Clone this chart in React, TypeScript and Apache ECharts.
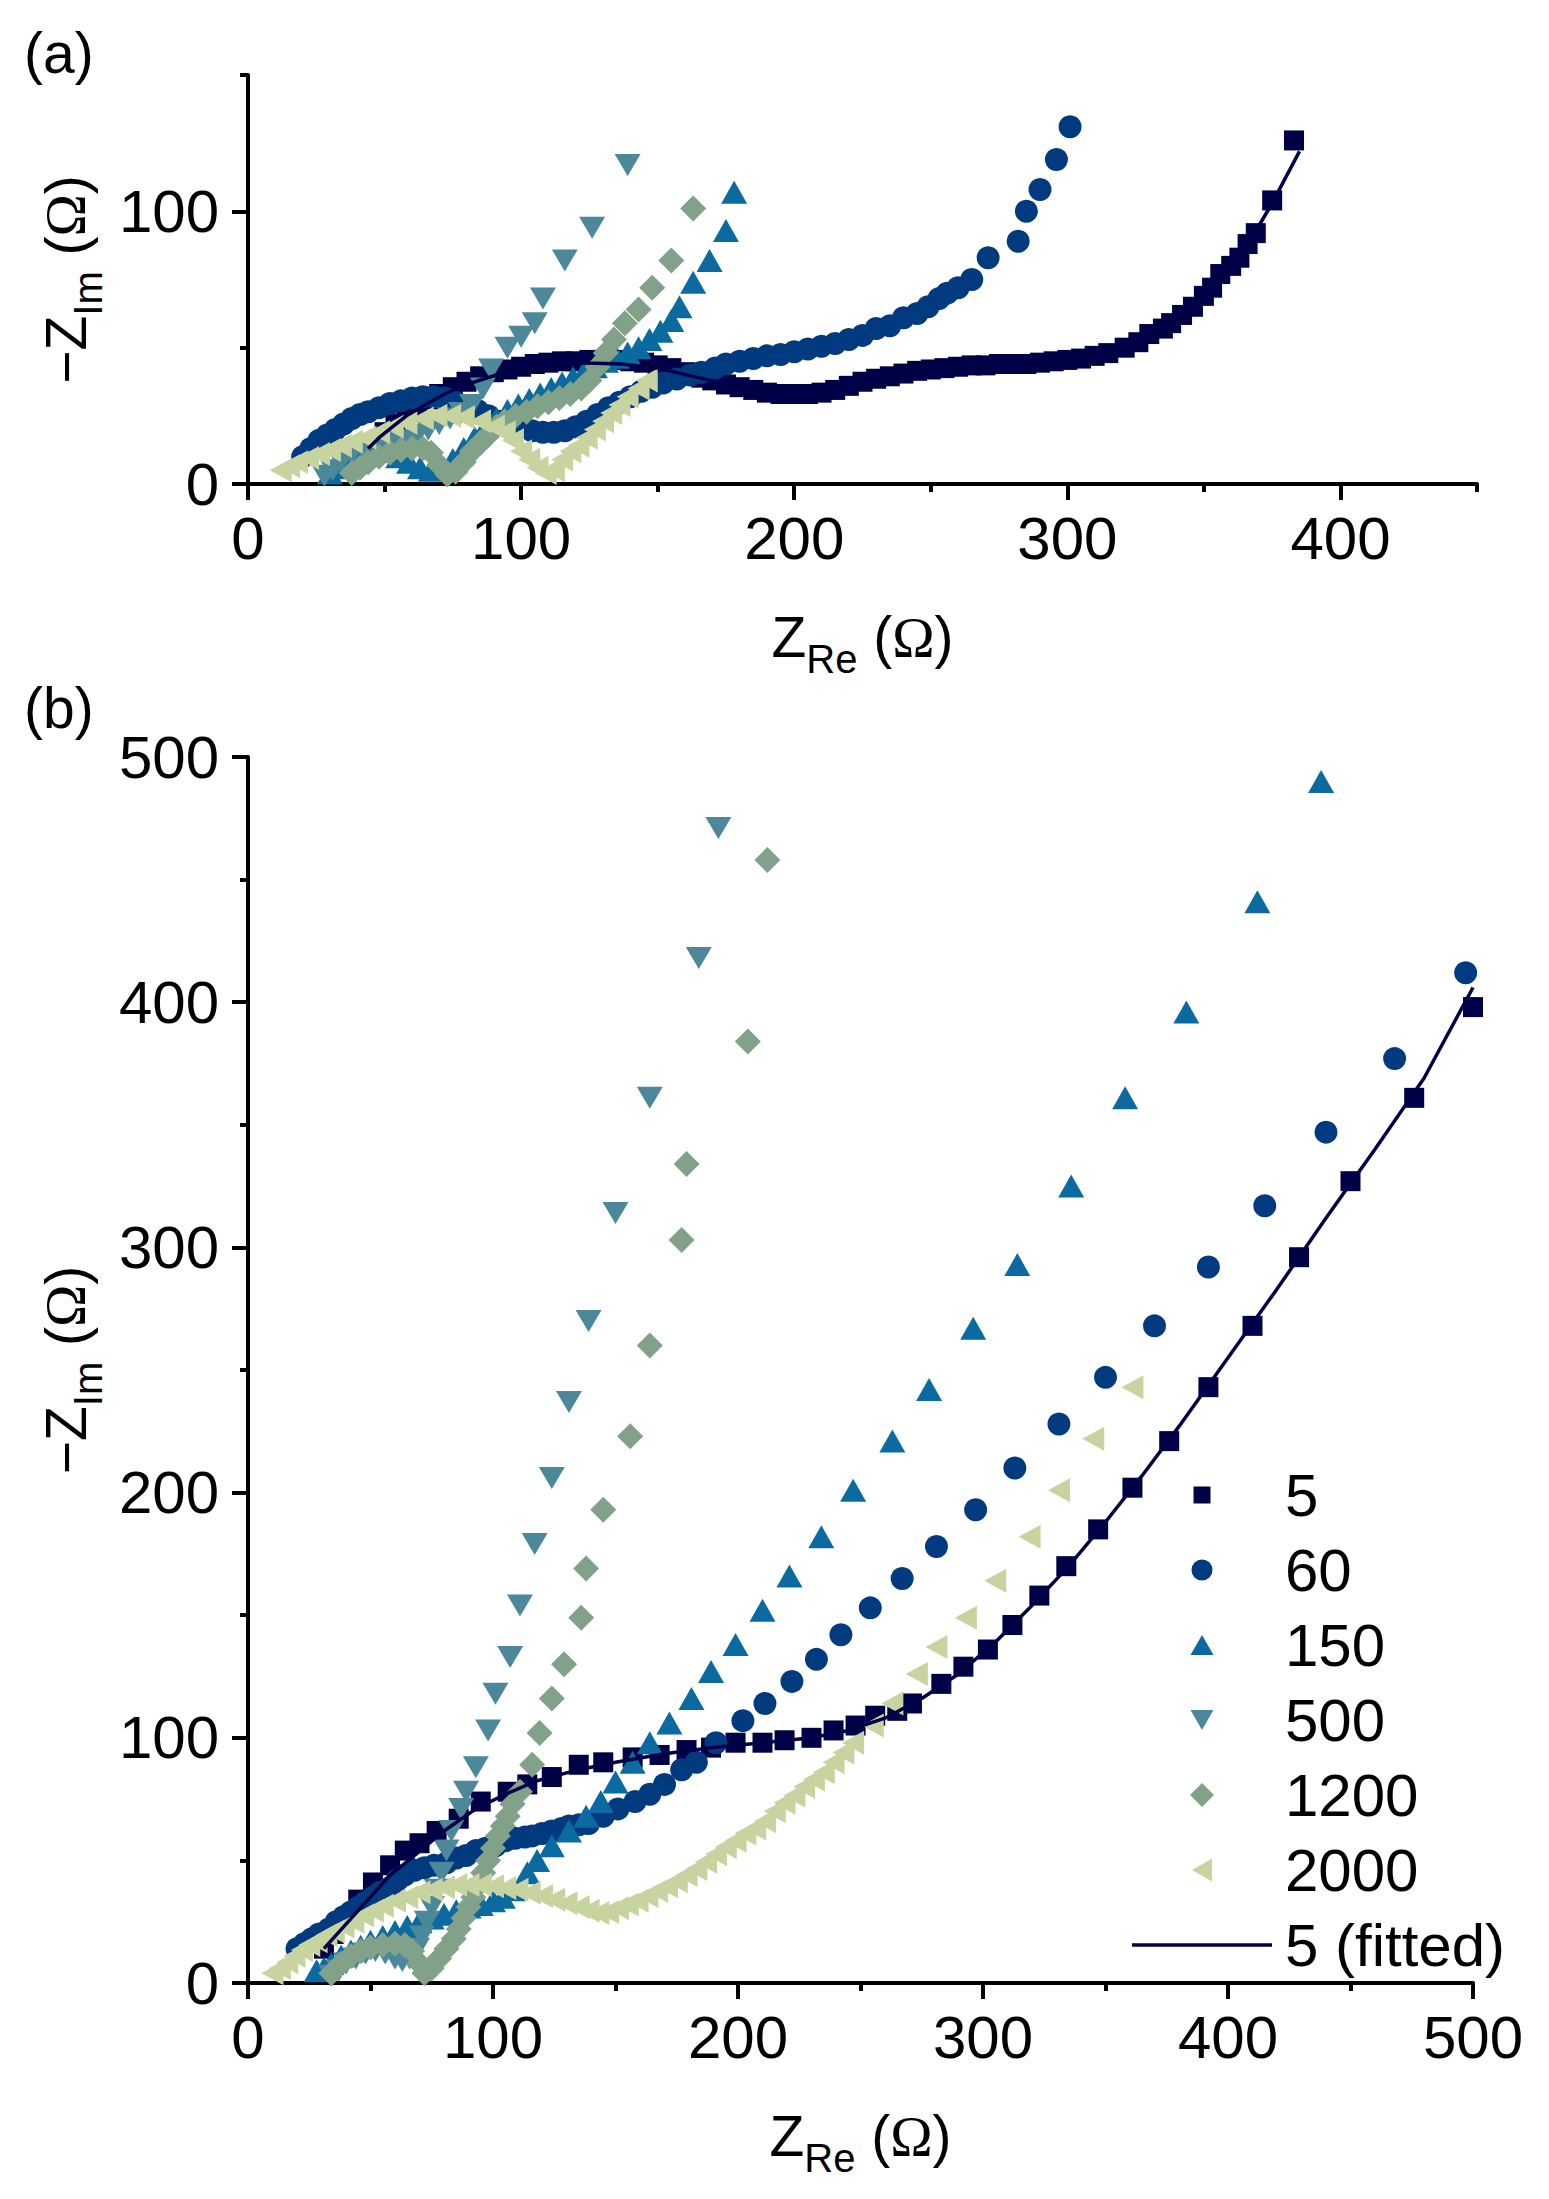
import { useEffect, useRef } from 'react';
import * as echarts from 'echarts';

const FONT = 'Liberation Sans, Arial, sans-serif';

// series names, colours and markers (same order as the legend)
const names = ['5', '60', '150', '500', '1200', '2000'];
const fitName = '5 (fitted)';
const colors = ['#000047', '#023a80', '#0b6a9f', '#4c8899', '#81a288', '#c8d4a0'];
const symbols = ['rect', 'circle', 'triangle', 'triangle', 'diamond', 'triangle'];
const symbolSizes: (number | number[])[] = [20, 23, [26, 23], [26, 22], 26, [24, 22]];
const symbolRotates = [0, 0, 0, 180, 0, 90];
// legend markers (drawn inside a 24 x 24 box so they keep their own size)
const legendIcons = [
  'path://M0,0M24,24M3.5,3.5H20.5V20.5H3.5Z',
  'path://M0,0M24,24M1.5,12A10.5,10.5,0,1,1,22.5,12A10.5,10.5,0,1,1,1.5,12Z',
  'path://M0,0M24,24M12,2L23.5,22H0.5Z',
  'path://M0,0M24,24M0.5,2H23.5L12,22Z',
  'path://M12,0L24,12L12,24L0,12Z',
  'path://M0,0M24,24M2,12L22,0.5V23.5Z',
];
const fitIcon = 'path://M0,0H140V3.5H0Z';

// tick labels
const ticksAx = [0, 100, 200, 300, 400];
const ticksAy = [0, 100];
const ticksBx = [0, 100, 200, 300, 400, 500];
const ticksBy = [0, 100, 200, 300, 400, 500];

// ---- panel (a): [ZRe, -ZIm] ----
const a5 = [[43,11],[46,15],[50,19],[54,22],[58,25],[62,28],[66,31],[70,33],[75,35.5],[80,37.5],[85,39.5],[90,41],[95,42],[100,43],[105,44],[110,44.5],[115,45],[120,45],[125,45.5],[130,45.5],[135,45.5],[140,45],[145,44.5],[150,43.5],[155,42.5],[160,41],[166,39],[170,38],[175,36.5],[180,35.5],[185,34.5],[190,33.5],[195,33],[200,33],[205,33],[210,33.5],[215,34.5],[220,36],[225,37.5],[230,38.6],[235,39.5],[240,40.5],[245,41.5],[250,42],[255,42.5],[260,43],[265,43.5],[270,43.5],[275,44],[280,44],[285,44],[290,44.5],[295,45],[300,45.5],[305,46],[310,47],[315,48],[321,50],[326,52],[330,55],[335,57],[338,59],[342,62],[346,65],[350,69],[353,72],[356,77],[360,80],[363,83],[366,88],[369,92],[375,104],[383,126]];
const a60 = [[20,10],[23,13],[26,16],[29,18],[32,20],[35,22],[38,24],[41,25.5],[44,26.5],[48,28],[52,29.5],[56,30.5],[60,31.5],[64,32],[68,32],[72,31.5],[76,30],[80,28.5],[84,27],[88,25],[92,23],[96,21.5],[100,20.5],[104,19.5],[108,19],[112,19],[116,19.5],[120,21],[124,23],[128,25.5],[132,28],[136,30],[140,32],[144,34],[148,35.5],[152,37],[157,38.5],[162,40],[166,41],[171,42.5],[175,44],[180,45],[185,46],[190,47],[195,47.5],[200,48.5],[205,49.5],[210,50.5],[215,51.5],[220,53],[225,54.5],[230,57],[235,58],[240,61],[245,62.5],[249,65],[253,68],[256,70],[260,72],[265,75],[271,83],[282,89],[285,100],[290,108],[296,119],[301,131]];
const a150 = [[30,4],[33,6],[37,9],[41,11],[45,12],[50,12],[55,10],[59,8],[63,6],[67,5],[71,6],[75,9],[79,13],[83,17],[87,21],[91,24],[95,27],[99,29],[103,31],[107,33],[111,35],[115,37],[119,39],[123,41],[127,43],[131,45],[135,46.5],[139,48],[143,50],[147,53],[151,56],[155,60],[158,65],[163,74],[169,82],[175,93],[178,107]];
const a500 = [[28,3],[31,5],[34,8],[38,11],[42,13],[46,14],[50,14.5],[54,15],[58,16],[62,18],[66,20],[70,22],[74,24],[78,26],[82,29],[86,35],[89,42],[95,50],[100,54],[105,59],[108,68],[116,82],[126,94],[139,117]];
const a1200 = [[38,4],[41,6],[44,8],[48,10],[52,11.5],[56,12.5],[60,13],[64,13],[67,11.5],[70,7],[73,3.5],[76,4.5],[79,8],[82,12],[85,15],[88,18],[91,21],[94,23],[98,25],[102,26.5],[106,28.5],[110,30],[114,31.5],[118,33],[122,35],[125,38],[128,43],[131,48],[134,53],[138,59],[143,64],[148,72],[155,82],[163,101]];
const a2000 = [[12,5],[15,6.5],[18,8],[22,9.5],[26,11],[30,12.5],[34,14],[38,15.5],[43,17],[48,19],[53,21],[58,22.5],[64,24],[69,25],[74,25],[79,24.5],[85,23],[90,21],[94,19],[97,16],[100,12],[103,9],[106,6],[109,4],[112,5],[115,9],[118,12],[121,14],[124,17],[127,20],[130,23],[133,26],[136,29],[139,32],[143,35],[146,38]];
const aFit = [[44,13],[48,17],[53,21],[58,25],[64,28.5],[72,33],[80,36.5],[91,40],[105,43],[120,44.5],[137,44],[150,42.5],[165,39],[180,35.5],[195,33.5],[210,33.5],[225,37],[240,40],[260,43],[280,44],[300,45.5],[315,48],[325,51],[335,56],[345,63],[355,73],[365,86],[375,103],[385,122]];

// ---- panel (b) ----
const b5 = [[31,14],[35,20],[39,25],[45,34],[51,41],[58,48],[64,54],[70,57],[77,62],[86,67],[95,74],[106,78],[114,81],[124,84],[135,89],[145,90],[157,92],[168,93],[179,95],[189,96],[199,98],[210,98],[219,99],[230,100],[239,103],[248,105],[256,109],[265,111],[271,114],[283,122],[292,129],[302,136],[312,146],[323,158],[334,170],[347,185],[361,202],[376,221],[392,243],[410,268],[429,296],[450,327],[476,361],[500,398]];
const b60 = [[20,14],[23,16],[26,18],[29,20],[33,22],[36,25],[39,27],[42,29],[45,31],[48,33],[51,35],[54,37],[58,39],[61,42],[64,44],[68,46],[72,47],[76,48],[81,49],[85,51],[89,52],[93,54],[97,55],[101,56],[105,58],[109,59],[113,59.5],[116,60],[120,61],[124,62],[128,63],[131,64],[135,64.5],[139,65],[145,68],[151,71],[158,74],[164,77],[170,81],[177,87],[183,90],[191,98],[202,107],[211,114],[222,123],[232,132],[242,142],[254,153],[267,165],[281,178],[297,193],[313,210],[331,228],[350,247],[370,268],[392,292],[415,317],[440,347],[468,377],[497,412]];
const b150 = [[28,5],[31,6],[34,8],[38,11],[42,13],[46,15],[50,17],[55,19],[60,21],[65,23],[70,25],[75,26.5],[80,28],[85,29.5],[90,31],[95,32],[100,33.5],[104,35],[108,38],[114,45],[118,50],[124,56],[131,62],[138,68],[144,74],[150,82],[157,90],[164,98],[172,106],[181,116],[189,127],[199,138],[210,152],[221,166],[234,182],[247,201],[263,221],[278,242],[296,267],[314,293],[336,325],[358,361],[383,396],[412,441],[438,490]];
const b500 = [[34,3],[37,5],[40,8],[44,10],[48,12],[52,13],[56,12],[60,10],[63,9],[66,10],[69,14],[71,19],[73,25],[75,31],[77,38],[79,45],[81,54],[83,62],[87,71],[89,78],[93,88],[98,103],[101,118],[107,133],[111,154],[117,179],[124,206],[131,237],[139,270],[150,314],[164,361],[184,418],[192,471]];
const b1200 = [[34,4],[38,8],[42,11],[46,13],[50,14.5],[55,15.5],[60,16],[64,15.5],[67,13],[70,8],[72,4],[75,6],[78,10],[81,14],[84,18],[86,22],[88,26.5],[90,31],[92,35],[94,40],[96,45],[98,50],[100,55],[102,60],[104,64],[106,68],[108,73],[111,78],[116,89],[119,102],[124,116],[129,130],[136,149],[138,169],[145,193],[156,223],[164,260],[177,303],[179,334],[204,384],[212,458]];
const b2000 = [[10,4],[13,6],[16,8.5],[19,11],[22,13.5],[25,15.5],[28,17],[32,19.5],[35,21],[39,23],[43,25],[47,27.5],[51,29.5],[55,31.5],[60,33.5],[65,35],[70,37],[75,38],[80,39],[85,40],[90,40],[95,40],[100,39.5],[105,38.7],[110,38],[115,36.8],[120,35.5],[125,34],[130,32.5],[135,31],[139,29.5],[143,28.5],[147,29],[151,30.5],[155,32],[159,33.5],[163,35.5],[167,37.5],[171,39.5],[175,41.5],[179,44],[183,46.5],[187,49.5],[191,52.5],[195,55.5],[199,58],[203,61],[207,63],[211,66],[215,70],[219,73.5],[223,76.5],[227,80],[231,83],[235,86],[239,90],[243,94],[247,98],[255,105],[263,114],[273,126],[281,137],[293,149],[305,164],[319,182],[331,201],[345,222],[361,243]];
const bFit = [[31,14],[40,24],[49,34],[58,44],[68,52],[80,62],[93,71],[105,77],[118,82.5],[135,87],[150,90],[170,93.5],[190,96],[210,98],[230,100],[245,103],[260,108],[275,116],[290,126],[305,139],[320,154],[335,170],[350,188],[365,207],[380,227],[400,255],[420,283],[440,312],[460,340],[480,369],[500,406]];

const dataA = [a5, a60, a150, a500, a1200, a2000];
const dataB = [b5, b60, b150, b500, b1200, b2000];

const RICH = {
  m: { fontSize: 57, fontFamily: FONT, color: '#000', lineHeight: 84 },
  s: { fontSize: 40, fontFamily: FONT, color: '#000', lineHeight: 40, verticalAlign: 'bottom' },
  o: { fontSize: 57, fontFamily: 'Liberation Serif, Times New Roman, serif', color: '#000', lineHeight: 84 },
};
const xName = '{m|Z}{s|Re}{m| (}{o|Ω}{m|)}';
const yName = '{m|−Z}{s|Im}{m| (}{o|Ω}{m|)}';

function axisPair(dim: 'x' | 'y', gridIndex: number, max: number, majors: number[]) {
  const base = {
    type: 'value',
    gridIndex,
    min: 0,
    max,
    interval: 50,
    position: dim === 'x' ? 'bottom' : 'left',
    splitLine: { show: false },
    axisLine: { show: true, onZero: false, lineStyle: { color: '#000', width: 4 } },
  };
  return [
    {
      ...base,
      axisTick: { show: true, length: 8, lineStyle: { color: '#000', width: 4 } },
      axisLabel: {
        customValues: majors,
        formatter: (v: number) => (majors.includes(v) ? String(v) : ''),
        fontSize: 60,
        fontFamily: FONT,
        color: '#000',
        margin: dim === 'x' ? 24 : 29,
      },
      name: dim === 'x' ? xName : yName,
      nameLocation: 'middle',
      nameGap: dim === 'x' ? 111 : 138,
      nameRotate: dim === 'x' ? 0 : 90,
      nameTextStyle: { fontSize: 57, fontFamily: FONT, color: '#000', rich: RICH },
    },
    {
      ...base,
      axisLine: { show: false },
      axisTick: { show: true, length: 16, customValues: majors, lineStyle: { color: '#000', width: 4 } },
      axisLabel: { show: false },
    },
  ];
}

function scatterSeries(list: number[][][], axisIndex: number) {
  return list.map((data, i) => ({
    type: 'scatter',
    name: names[i],
    data,
    xAxisIndex: axisIndex,
    yAxisIndex: axisIndex,
    symbol: symbols[i],
    symbolSize: symbolSizes[i],
    symbolRotate: symbolRotates[i],
    itemStyle: { color: colors[i], opacity: 1 },
    clip: false,
    silent: true,
  }));
}

function fitSeries(data: number[][], axisIndex: number) {
  return {
    type: 'line',
    name: fitName,
    data,
    xAxisIndex: axisIndex,
    yAxisIndex: axisIndex,
    symbol: 'none',
    showSymbol: false,
    lineStyle: { color: colors[0], width: 3.5 },
    itemStyle: { color: colors[0] },
    clip: false,
    silent: true,
    z: 5,
  };
}

function buildOption() {
  return {
    animation: false,
    backgroundColor: '#fff',
    textStyle: { fontFamily: FONT },
    grid: [
      { left: 248, top: 75, width: 1229, height: 409 },
      { left: 248, top: 757, width: 1225, height: 1226 },
    ],
    xAxis: [...axisPair('x', 0, 450, ticksAx), ...axisPair('x', 1, 500, ticksBx)],
    yAxis: [...axisPair('y', 0, 150, ticksAy), ...axisPair('y', 1, 500, ticksBy)],
    legend: {
      data: [
        ...names.map((name, i) => ({ name, icon: legendIcons[i], itemStyle: { color: colors[i] } })),
        { name: fitName, icon: fitIcon, itemStyle: { color: colors[0] } },
      ],
      orient: 'vertical',
      left: 1127,
      top: 1460,
      itemWidth: 140,
      itemHeight: 24,
      itemGap: 15,
      symbolKeepAspect: true,
      symbolRotate: 0,
      selectedMode: false,
      textStyle: { fontSize: 60, fontFamily: FONT, color: '#000', lineHeight: 60, padding: [0, 0, 0, 8] },
    },
    graphic: [
      { type: 'text', left: 24, top: 24, style: { text: '(a)', fontSize: 57, fontFamily: FONT, fill: '#000' } },
      { type: 'text', left: 24, top: 679, style: { text: '(b)', fontSize: 57, fontFamily: FONT, fill: '#000' } },
    ],
    series: [
      ...scatterSeries(dataA, 0),
      fitSeries(aFit, 0),
      ...scatterSeries(dataB, 2),
      fitSeries(bFit, 2),
    ],
  };
}

export default function App() {
  const ref = useRef<HTMLDivElement>(null);
  useEffect(() => {
    document.body.style.margin = '0';
    if (!ref.current) return;
    const chart = echarts.init(ref.current, undefined, { renderer: 'svg' });
    chart.setOption(buildOption() as any);
    return () => chart.dispose();
  }, []);
  return <div ref={ref} style={{ width: 1549, height: 2199, background: '#fff' }} />;
}
